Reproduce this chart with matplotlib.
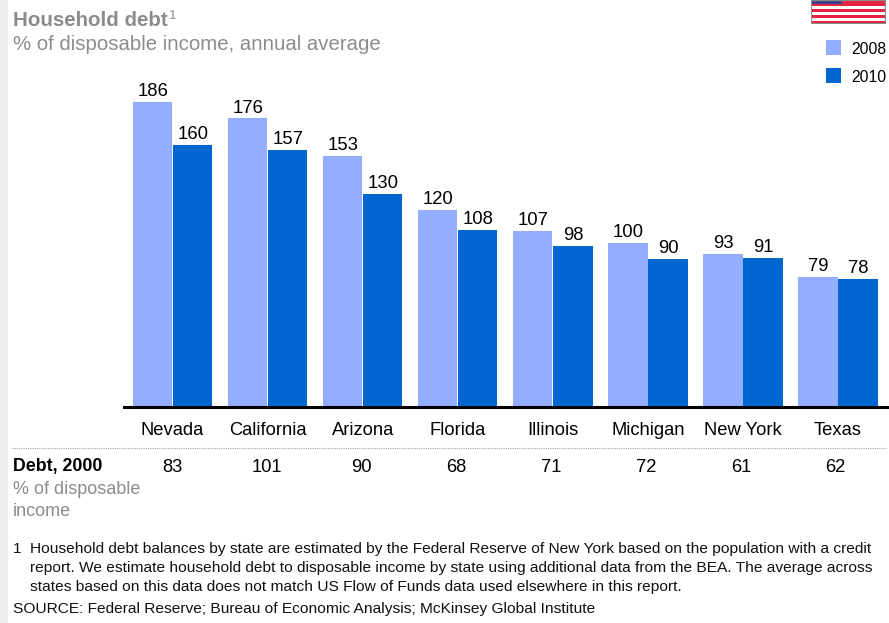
import matplotlib
matplotlib.use('agg')
import matplotlib.pyplot as plt
import numpy as np
from matplotlib.patches import Rectangle

plt.rcParams['font.family'] = ['Liberation Sans', 'DejaVu Sans']

states = ['Nevada', 'California', 'Arizona', 'Florida', 'Illinois', 'Michigan', 'New York', 'Texas']
debt_2008 = [186, 176, 153, 120, 107, 100, 93, 79]
debt_2010 = [160, 157, 130, 108, 98, 90, 91, 78]
debt_2000 = [83, 101, 90, 68, 71, 72, 61, 62]

light = '#94aeff'
dark = '#0066cf'
grey = '#8c8c8c'
W, H = 889, 623

footnote = [
    '1  Household debt balances by state are estimated by the Federal Reserve of New York based on the population with a credit',
    '    report. We estimate household debt to disposable income by state using additional data from the BEA. The average across',
    '    states based on this data does not match US Flow of Funds data used elsewhere in this report.',
]
source = 'SOURCE: Federal Reserve; Bureau of Economic Analysis; McKinsey Global Institute'


def px(x, y):
    # pixel position from top left to figure fraction
    return x / W, 1 - y / H


fig = plt.figure(figsize=(W / 100, H / 100), dpi=100)
fig.patches.append(Rectangle((0, 0), 8 / W, 1, transform=fig.transFigure, color='#eef0ef', lw=0))

left, bottom = px(124, 406.5)
ax = fig.add_axes([left, bottom, (888 - 124) / W, (406.5 - 70) / H])
x = np.arange(len(states))
w = 0.4155
ax.bar(x - w / 2 - 0.003, debt_2008, w, color=light, label='2008')
ax.bar(x + w / 2 + 0.003, debt_2010, w, color=dark, label='2010')
ax.set_xlim(-0.51, 7.526)
ax.set_ylim(0, 205.6)
for s in ['top', 'left', 'right']:
    ax.spines[s].set_visible(False)
ax.spines['bottom'].set_linewidth(2.2)
ax.spines['bottom'].set_color('black')
ax.set_yticks([])
ax.set_xticks(x)
ax.set_xticklabels(states, fontsize=13.2)
ax.tick_params(axis='x', length=0, pad=11)

for i in x:
    ax.annotate(str(debt_2008[i]), (i - w / 2 + 0.005, debt_2008[i]), xytext=(0, 1.4), textcoords='offset points',
                ha='center', va='bottom', fontsize=13.3)
    ax.annotate(str(debt_2010[i]), (i + w / 2 + 0.005, debt_2010[i]), xytext=(0, 1.4), textcoords='offset points',
                ha='center', va='bottom', fontsize=13.3)
    fig.text(px(172 + i * 94.8, 0)[0], px(0, 467.5)[1], str(debt_2000[i]), ha='center', va='center', fontsize=13.2)

# titulo
fig.text(*px(13, 21), 'Household debt', fontsize=14.8, fontweight='bold', color=grey, ha='left', va='center')
fig.text(*px(168.5, 16), '1', fontsize=9.5, color=grey, ha='left', va='center')
fig.text(*px(13, 45), '% of disposable income, annual average', fontsize=14.7, color=grey, ha='left', va='center')

# leyenda
for y0, c, lab in [(48, light, '2008'), (76, dark, '2010')]:
    fig.patches.append(Rectangle(px(826, y0 - 8), 15 / W, -15 / H, transform=fig.transFigure, color=c, lw=0))
    fig.text(*px(851, y0 + 1), lab, fontsize=11.3, ha='left', va='center')

# bandera
flag = fig.add_axes([811 / W, 1 - 24 / H, 75 / W, 24 / H])
flag.set_xlim(0, 75)
flag.set_ylim(24, 0)
flag.axis('off')
flag.add_patch(Rectangle((0, 0), 75, 24, color='#e8233f', lw=0))
for yy in [5.5, 11.5, 17.5]:
    flag.add_patch(Rectangle((0, yy), 75, 3, color='white', lw=0))
flag.add_patch(Rectangle((1, 0), 30, 3.5, color='#3a3f8f', lw=0))
flag.add_patch(Rectangle((0, 0), 75, 24, fill=False, ec='#8a8a8a', lw=1.6))

# tabla inferior
fig.add_artist(plt.Line2D([12 / W, 886 / W], [px(0, 447.5)[1]] * 2, color='#a0a0a0', lw=0.8, ls=(0, (1, 1))))
fig.text(*px(13, 467), 'Debt, 2000', fontsize=12.8, fontweight='bold', ha='left', va='center')
fig.text(*px(13, 489.5), '% of disposable', fontsize=13, color=grey, ha='left', va='center')
fig.text(*px(13, 511), 'income', fontsize=13, color=grey, ha='left', va='center')

for y0, line in zip([549, 568, 587], footnote):
    fig.text(*px(13, y0), line, fontsize=11.14, ha='left', va='center', color='#111111')
fig.text(*px(13, 609), source, fontsize=11.14, ha='left', va='center', color='#111111')

fig.savefig('out.png', dpi=100)
